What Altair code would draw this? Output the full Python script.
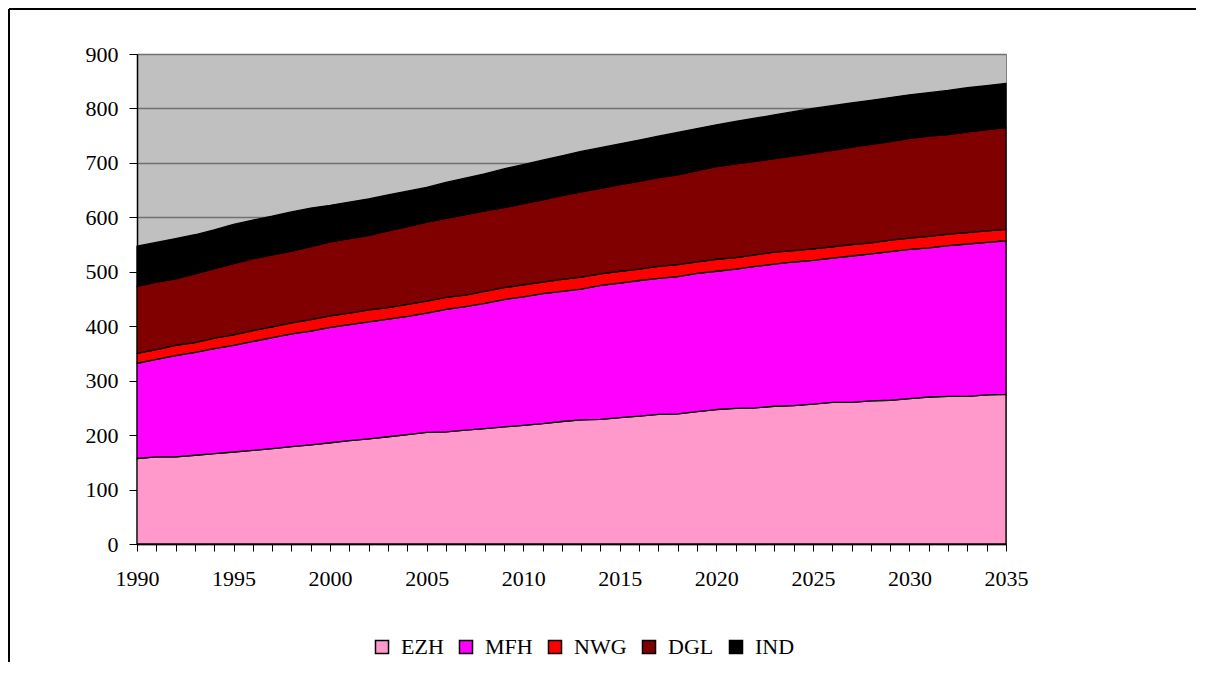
import altair as alt
import pandas as pd

years = list(range(1990, 2036))
series = ["EZH", "MFH", "NWG", "DGL", "IND"]
colors = ["#FF99CC", "#FF00FF", "#FF0000", "#800000", "#000000"]

ezh = [157, 160, 160, 163, 166, 169, 172, 175, 179, 182,
       186, 190, 193, 197, 201, 205, 206, 209, 212, 215,
       218, 221, 225, 228, 229, 232, 235, 238, 239, 243,
       247, 249, 250, 253, 254, 257, 260, 260, 263, 264,
       267, 270, 271, 271, 274, 275]
mfh = [175, 179, 186, 189, 193, 196, 200, 204, 207, 209,
       212, 213, 215, 216, 217, 219, 225, 227, 230, 234,
       236, 239, 239, 240, 246, 247, 249, 250, 252, 254,
       254, 256, 260, 261, 264, 264, 265, 269, 270, 273,
       274, 274, 277, 280, 280, 282]
nwg = [18, 18, 19, 18, 19, 19, 20, 20, 20, 21,
       21, 21, 22, 21, 22, 22, 22, 21, 22, 22,
       22, 21, 22, 22, 21, 22, 21, 22, 22, 21,
       22, 21, 21, 22, 21, 21, 21, 21, 20, 21,
       21, 21, 21, 21, 21, 21]
dgl = [123, 124, 122, 126, 128, 131, 132, 132, 132, 134,
       136, 137, 137, 141, 143, 145, 145, 148, 148, 147,
       149, 151, 154, 157, 157, 159, 161, 163, 165, 168,
       170, 172, 172, 172, 174, 176, 177, 179, 181, 181,
       183, 184, 183, 185, 186, 187]
ind = [74, 73, 74, 72, 71, 72, 71, 71, 72, 71,
       67, 67, 67, 66, 65, 64, 66, 67, 68, 71,
       72, 73, 73, 74, 75, 75, 76, 76, 78, 77,
       77, 78, 79, 80, 81, 82, 82, 81, 81, 81,
       80, 80, 81, 81, 81, 81]

y_ticks = [0, 100, 200, 300, 400, 500, 600, 700, 800, 900]

rows = []
for i, (name, vals) in enumerate(zip(series, [ezh, mfh, nwg, dgl, ind])):
    for yr, v in zip(years, vals):
        rows.append({"Jahr": yr, "Serie": name, "Wert": v, "ord": i})
df = pd.DataFrame(rows)

FONT = "Liberation Serif"

area = alt.Chart(df).mark_area(
    stroke="black", strokeWidth=1.3, strokeJoin="round", opacity=1
).encode(
    x=alt.X(
        "Jahr:Q",
        scale=alt.Scale(domain=[1990, 2035], nice=False, zero=False),
        axis=alt.Axis(
            values=years, format="d",
            labelExpr="datum.value % 5 == 0 ? datum.label : ''",
            labelOverlap=False, labelFlush=False,
            title=None, grid=False,
            tickSize=7, tickColor="black", tickWidth=1,
            domainColor="black", domainWidth=1.5,
            labelFont=FONT, labelFontSize=22, labelColor="black",
            labelPadding=17,
        ),
    ),
    y=alt.Y(
        "Wert:Q", stack="zero",
        scale=alt.Scale(domain=[0, 900], nice=False),
        axis=alt.Axis(
            values=y_ticks, title=None, grid=True,
            gridColor="#707070", gridWidth=1.3,
            tickSize=8, tickColor="black", tickWidth=1,
            domainColor="black", domainWidth=1.5,
            labelFont=FONT, labelFontSize=22, labelColor="black",
            labelPadding=11,
        ),
    ),
    color=alt.Color(
        "Serie:N",
        scale=alt.Scale(domain=series, range=colors),
        sort=series,
        legend=alt.Legend(
            orient="none", legendX=234, legendY=582, direction="horizontal",
            title=None, symbolType="square", symbolSize=170,
            symbolStrokeColor="black", symbolStrokeWidth=1.5,
            symbolOpacity=1,
            labelFont=FONT, labelFontSize=22, labelColor="black",
            labelOffset=8, columnPadding=11, padding=0,
        ),
    ),
    order=alt.Order("ord:Q", sort="ascending"),
)

frame_df = pd.DataFrame({"k": [0]})
top_line = alt.Chart(frame_df).mark_rule(color="black", strokeWidth=2).encode(
    x=alt.value(-128), x2=alt.value(1062), y=alt.value(-45), y2=alt.value(-45)
)
left_line = alt.Chart(frame_df).mark_rule(color="black", strokeWidth=2).encode(
    x=alt.value(-128), x2=alt.value(-128), y=alt.value(-45), y2=alt.value(612)
)

chart = alt.layer(area, top_line, left_line).properties(
    width=869, height=490,
    autosize=alt.AutoSizeParams(type="none"),
    padding={"left": 129, "top": 46, "right": 190, "bottom": 118},
    background="white",
).configure_view(
    fill="#C0C0C0", stroke="#808080", strokeWidth=1
)

chart.save("out.html", embed_options={"renderer": "svg", "actions": False})
